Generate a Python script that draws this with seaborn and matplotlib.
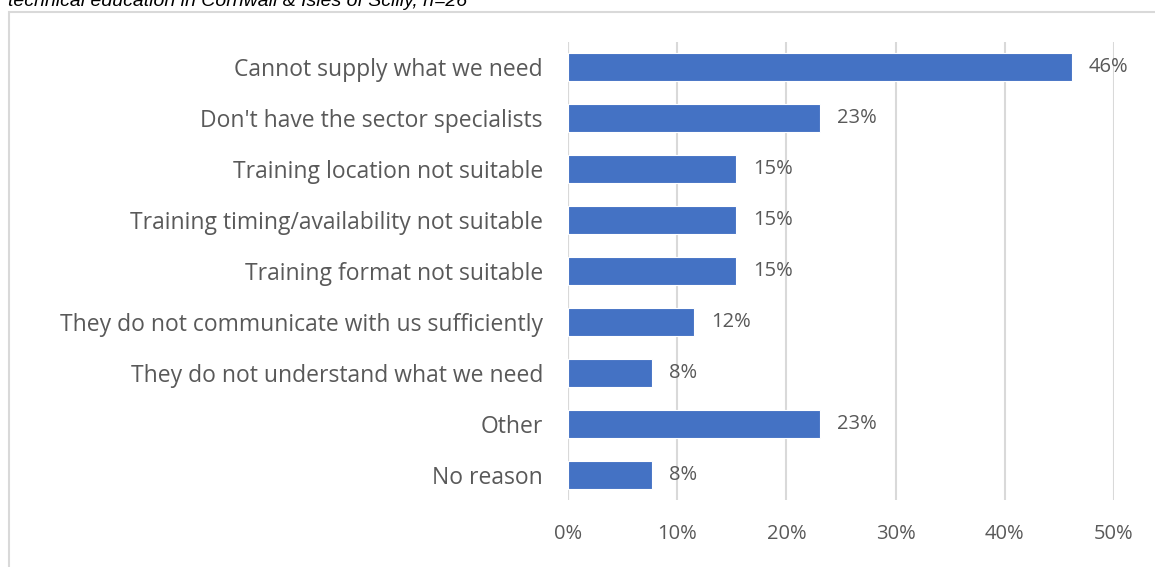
import matplotlib
matplotlib.use("Agg")
import matplotlib.pyplot as plt
import seaborn as sns
import pandas as pd
from matplotlib.patches import Rectangle
from matplotlib.ticker import FuncFormatter

categories = [
    "Cannot supply what we need",
    "Don't have the sector specialists",
    "Training location not suitable",
    "Training timing/availability not suitable",
    "Training format not suitable",
    "They do not communicate with us sufficiently",
    "They do not understand what we need",
    "Other",
    "No reason",
]
shares = [0.4615, 0.2308, 0.1538, 0.1538, 0.1538, 0.1154, 0.0769, 0.2308, 0.0769]
x_ticks = [0.0, 0.1, 0.2, 0.3, 0.4, 0.5]
caption = "technical education in Cornwall & Isles of Scilly, n=26"

df = pd.DataFrame({"reason": categories, "share": shares})

sns.set_theme(style="white")
plt.rcParams["font.family"] = ["Open Sans", "DejaVu Sans"]

text_col = "#595959"
grid_col = "#d9d9d9"
bar_col = "#4472C4"

fig = plt.figure(figsize=(11.55, 5.67), dpi=100)
ax = fig.add_axes([568 / 1155, 1 - 500 / 567, (1114 - 568) / 1155, (500 - 42) / 567])

sns.barplot(data=df, y="reason", x="share", orient="h", color=bar_col,
            saturation=1, width=0.55, edgecolor="white", linewidth=0.8,
            ax=ax, zorder=3)

ax.set_xlim(0, 0.5)
ax.set_ylim(len(categories) - 0.5, -0.5)
ax.set_xticks(x_ticks)
ax.xaxis.set_major_formatter(FuncFormatter(lambda v, _: f"{v * 100:.0f}%"))
ax.grid(axis="x", color=grid_col, linewidth=1.5, zorder=0)
ax.grid(axis="y", visible=False)
for s in ax.spines.values():
    s.set_visible(False)
ax.axvline(0, color=grid_col, linewidth=1.5, zorder=1)
ax.set_xlabel("")
ax.set_ylabel("")
ax.tick_params(axis="x", length=0, pad=17, labelsize=14.5, labelcolor=text_col)
ax.tick_params(axis="y", length=0, pad=18, labelsize=16.5, labelcolor=text_col)

for i, v in enumerate(shares):
    ax.text(v + 0.0155, i, f"{v * 100:.0f}%", va="center", ha="left",
            fontsize=14.5, color=text_col, zorder=4)

# outer chart frame and the caption above it
fig.add_artist(Rectangle((9 / 1155, -0.05), 1.2, 1.05 - 12 / 567,
                         transform=fig.transFigure, fill=False,
                         edgecolor=grid_col, linewidth=1.5))
fig.text(8 / 1155, 1 - 6 / 567, caption, ha="left", va="baseline",
         fontsize=14, style="italic", color="black",
         family=["Liberation Sans", "DejaVu Sans"])

fig.savefig("out.png", dpi=100)
